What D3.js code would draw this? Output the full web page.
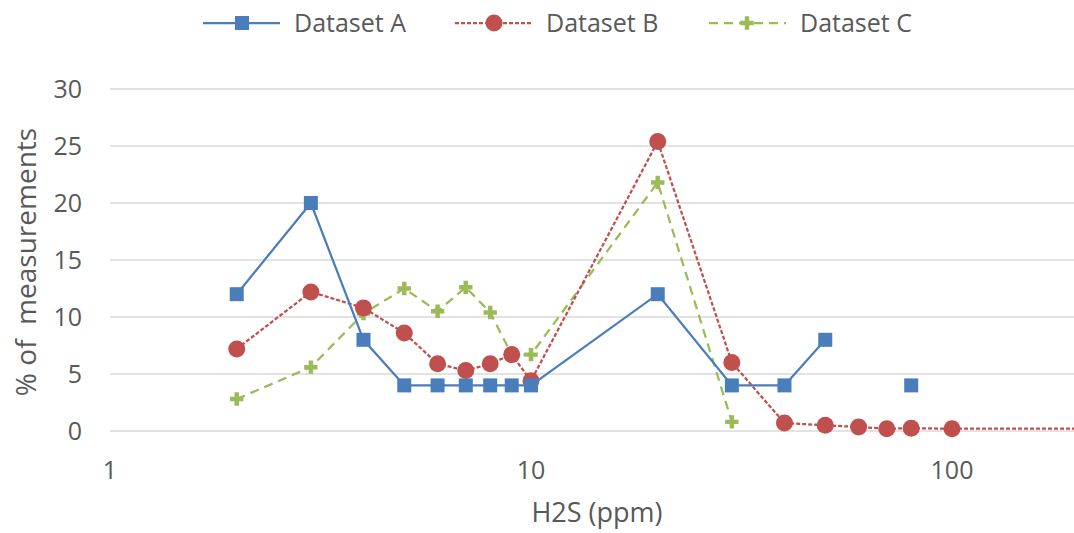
<!DOCTYPE html>
<html>
<head>
<meta charset="utf-8">
<script src="https://cdn.jsdelivr.net/npm/d3@7"></script>
<style>
  body { margin: 0; background: #fff; }
  text { font-family: "Open Sans", sans-serif; fill: #595959; white-space: pre; }
</style>
</head>
<body>
<script>
// H2S concentrations (ppm) and % of measurements per dataset
const ppmA = [2, 3, 4, 5, 6, 7, 8, 9, 10, 20, 30, 40, 50, 60, 70, 80];
const valuesA = [12, 20, 8, 4, 4, 4, 4, 4, 4, 12, 4, 4, 8, null, null, 4];

const ppmB = [2, 3, 4, 5, 6, 7, 8, 9, 10, 20, 30, 40, 50, 60, 70, 80, 100, 500];
const valuesB = [7.2, 12.2, 10.8, 8.6, 5.9, 5.3, 5.9, 6.7, 4.4, 25.4, 6.0, 0.7, 0.5, 0.35, 0.2, 0.25, 0.2, 0.2];

const ppmC = [2, 3, 4, 5, 6, 7, 8, 9, 10, 20, 30];
const valuesC = [2.8, 5.6, 10.3, 12.5, 10.5, 12.6, 10.4, 6.7, 6.7, 21.8, 0.8];

const xTicks = [1, 10, 100];
const yTicks = [0, 5, 10, 15, 20, 25, 30];
const seriesNames = ["Dataset A", "Dataset B", "Dataset C"];

const width = 1074, height = 533;
const margin = {top: 89, right: 0, bottom: 102, left: 110};

const svg = d3.select("body").append("svg")
    .attr("width", width)
    .attr("height", height);

const x = d3.scaleLog().domain([1, 1000]).range([margin.left, margin.left + 3 * 421]);
const y = d3.scaleLinear().domain([0, 30]).range([height - margin.bottom, margin.top]);

// gridlines
svg.append("g")
    .selectAll("line")
    .data(yTicks)
    .join("line")
    .attr("x1", margin.left)
    .attr("x2", width)
    .attr("y1", d => y(d))
    .attr("y2", d => y(d))
    .attr("stroke", "#d9d9d9")
    .attr("stroke-width", 1.5);

// y tick labels
svg.append("g")
    .selectAll("text")
    .data(yTicks)
    .join("text")
    .attr("x", 82)
    .attr("y", d => y(d))
    .attr("dy", "0.35em")
    .attr("text-anchor", "end")
    .style("font-size", "25px")
    .text(d => d);

// x tick labels
svg.append("g")
    .selectAll("text")
    .data(xTicks)
    .join("text")
    .attr("x", d => x(d))
    .attr("y", 470)
    .attr("dy", "0.35em")
    .attr("text-anchor", "middle")
    .style("font-size", "25px")
    .text(d => d);

// axis titles
svg.append("text")
    .attr("x", 597)
    .attr("y", 513)
    .attr("dy", "0.35em")
    .attr("text-anchor", "middle")
    .style("font-size", "27px")
    .text("H2S (ppm)");

svg.append("text")
    .attr("transform", "translate(26,262) rotate(-90)")
    .attr("dy", "0.35em")
    .attr("text-anchor", "middle")
    .style("font-size", "28px")
    .text("% of  measurements");

svg.append("clipPath").attr("id", "plotClip")
    .append("rect")
    .attr("x", margin.left - 20).attr("y", 0)
    .attr("width", width - margin.left + 20).attr("height", height);

const plot = svg.append("g").attr("clip-path", "url(#plotClip)");

const line = d3.line()
    .defined(d => d[1] !== null)
    .x(d => x(d[0]))
    .y(d => y(d[1]));

const dataA = d3.zip(ppmA, valuesA);
const dataB = d3.zip(ppmB, valuesB);
const dataC = d3.zip(ppmC, valuesC);

const blue = "#4a7ebb", red = "#c0504d", green = "#9bbb59";

const crossPath = d3.symbol().type(d3.symbolCross).size(100);

// Dataset C
plot.append("path")
    .datum(dataC)
    .attr("d", line)
    .attr("fill", "none")
    .attr("stroke", green)
    .attr("stroke-width", 2.25)
    .attr("stroke-dasharray", "9,6");
plot.selectAll(".mc")
    .data(dataC)
    .join("path")
    .attr("class", "mc")
    .attr("d", crossPath)
    .attr("transform", d => `translate(${x(d[0])},${y(d[1])})`)
    .attr("fill", green);

// Dataset B
plot.append("path")
    .datum(dataB)
    .attr("d", line)
    .attr("fill", "none")
    .attr("stroke", red)
    .attr("stroke-width", 2.25)
    .attr("stroke-dasharray", "4,2");
plot.selectAll(".mb")
    .data(dataB)
    .join("circle")
    .attr("class", "mb")
    .attr("cx", d => x(d[0]))
    .attr("cy", d => y(d[1]))
    .attr("r", 8.5)
    .attr("fill", red);

// Dataset A
plot.append("path")
    .datum(dataA)
    .attr("d", line)
    .attr("fill", "none")
    .attr("stroke", blue)
    .attr("stroke-width", 2.25);
plot.selectAll(".ma")
    .data(dataA.filter(d => d[1] !== null))
    .join("rect")
    .attr("class", "ma")
    .attr("x", d => x(d[0]) - 7)
    .attr("y", d => y(d[1]) - 7)
    .attr("width", 14)
    .attr("height", 14)
    .attr("fill", blue);

// legend
const legendX = [203, 455, 709];
const legendColors = [blue, red, green];
const legendDash = [null, "4,2", "9,6"];
const legend = svg.append("g");
seriesNames.forEach((name, i) => {
    const g = legend.append("g").attr("transform", `translate(${legendX[i]},23)`);
    g.append("line")
        .attr("x1", 0).attr("x2", 77)
        .attr("stroke", legendColors[i])
        .attr("stroke-width", 2.25)
        .attr("stroke-dasharray", legendDash[i]);
    if (i === 0) {
        g.append("rect").attr("x", 32).attr("y", -7).attr("width", 14).attr("height", 14).attr("fill", blue);
    } else if (i === 1) {
        g.append("circle").attr("cx", 39).attr("r", 8.5).attr("fill", red);
    } else {
        g.append("path").attr("d", crossPath).attr("transform", "translate(38,0)").attr("fill", green);
    }
    g.append("text")
        .attr("x", 91)
        .attr("dy", "0.35em")
        .style("font-size", "25px")
        .text(name);
});
</script>
</body>
</html>
